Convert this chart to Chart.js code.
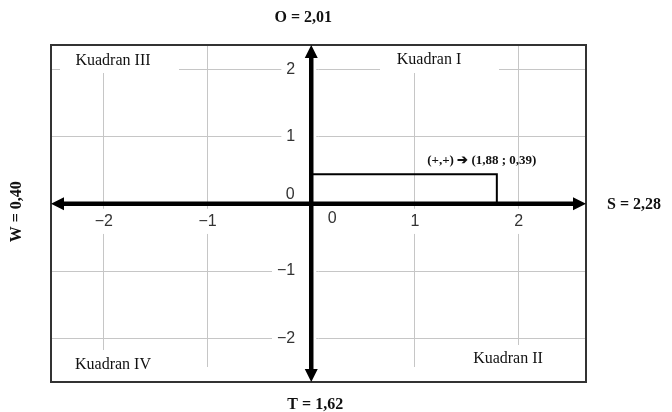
<!DOCTYPE html>
<html lang="id">
<head>
<meta charset="UTF-8">
<title>Diagram Kuadran</title>
<script src="https://cdn.jsdelivr.net/npm/chart.js"></script>
<style>
  body { margin: 0; background: #ffffff; }
  .wrap { width: 672px; height: 412px; }
</style>
</head>
<body>
<div class="wrap"><canvas id="kuadranChart"></canvas></div>
<script>
// batas sumbu
const xRange = [-2.51, 2.65];
const yRange = [-2.65, 2.36];
const tickStep = 1;

// titik hasil, posisi seperti tergambar
const pointX = [1.79];
const pointY = [0.44];
const pointText = ['(+,+) \u2794 (1,88 ; 0,39)'];

// label di luar sumbu: atas, bawah, kanan, kiri
const edgeLabels = ['O = 2,01', 'T = 1,62', 'S = 2,28', 'W = 0,40'];
const quadrantNames = ['Kuadran I', 'Kuadran II', 'Kuadran III', 'Kuadran IV'];

const serif = '"Liberation Serif", "Times New Roman", serif';
const sans = '"Liberation Sans", Arial, sans-serif';

function fmt(v) {
    if (v === 0) return '';
    return v < 0 ? '\u2212' + Math.abs(v) : String(v);
}

const rectData = [
    { x: 0, y: 0 },
    { x: 0, y: pointY[0] },
    { x: pointX[0], y: pointY[0] },
    { x: pointX[0], y: 0 }
];

const tickBase = {
    stepSize: tickStep,
    includeBounds: false,
    padding: 8,
    color: '#333',
    font: { family: sans, size: 16 },
    showLabelBackdrop: true,
    backdropColor: '#ffffff',
    backdropPadding: { x: 5, y: 3 },
    z: 1
};

function arrow(ctx, x, y, dx, dy) {
    // ujung panah di (x, y), arah (dx, dy)
    const len = 13, half = 6.5;
    ctx.beginPath();
    ctx.moveTo(x, y);
    ctx.lineTo(x - dx * len - dy * half, y - dy * len - dx * half);
    ctx.lineTo(x - dx * len + dy * half, y - dy * len + dx * half);
    ctx.closePath();
    ctx.fill();
}

const decor = {
    id: 'decor',
    beforeDatasetsDraw(chart) {
        const { ctx, chartArea: a } = chart;
        ctx.save();
        ctx.fillStyle = '#ffffff';
        // potong garis grid di belakang label kuadran
        ctx.fillRect(a.left + 9, a.top, 119, 28);
        ctx.fillRect(a.left + 329, a.top, 119, 28);
        ctx.fillRect(a.left, a.bottom - 15, a.right - a.left, 15);
        ctx.fillRect(a.left + 9, a.bottom - 32, 120, 32);
        ctx.fillRect(a.left + 409, a.bottom - 37, 105, 37);
        ctx.restore();
    },
    afterDraw(chart) {
        const { ctx, chartArea: a, scales } = chart;
        const x0 = scales.x.getPixelForValue(0);
        const y0 = scales.y.getPixelForValue(0);
        ctx.save();

        // bingkai
        ctx.strokeStyle = '#333';
        ctx.lineWidth = 2;
        ctx.strokeRect(a.left, a.top, a.right - a.left, a.bottom - a.top);

        // sumbu tebal dengan panah
        ctx.strokeStyle = '#000';
        ctx.fillStyle = '#000';
        ctx.lineWidth = 4.5;
        ctx.beginPath();
        ctx.moveTo(a.left + 10, y0);
        ctx.lineTo(a.right - 10, y0);
        ctx.moveTo(x0, a.top + 10);
        ctx.lineTo(x0, a.bottom - 10);
        ctx.stroke();
        arrow(ctx, a.right, y0, 1, 0);
        arrow(ctx, a.left, y0, -1, 0);
        arrow(ctx, x0, a.top, 0, -1);
        arrow(ctx, x0, a.bottom, 0, 1);

        // label nol
        ctx.fillStyle = '#333';
        ctx.font = '16px ' + sans;
        ctx.textAlign = 'center';
        ctx.textBaseline = 'middle';
        ctx.fillText('0', x0 + 21, y0 + 15);
        ctx.fillText('0', x0 - 21, y0 - 9);

        // nama kuadran
        ctx.fillStyle = '#111';
        ctx.font = '16px ' + serif;
        ctx.fillText(quadrantNames[0], a.left + 378, a.top + 15);
        ctx.fillText(quadrantNames[1], a.left + 457, a.bottom - 23);
        ctx.fillText(quadrantNames[2], a.left + 62, a.top + 16);
        ctx.fillText(quadrantNames[3], a.left + 62, a.bottom - 17);

        // keterangan titik
        const px = scales.x.getPixelForValue(pointX[0]);
        const py = scales.y.getPixelForValue(pointY[0]);
        ctx.font = 'bold 13px ' + serif;
        ctx.fillText(pointText[0], px - 15, py - 14);

        // label luar
        ctx.font = 'bold 16px ' + serif;
        ctx.fillText(edgeLabels[0], x0 - 8, 18);
        ctx.fillText(edgeLabels[1], x0 + 4, 405);
        ctx.textAlign = 'left';
        ctx.fillText(edgeLabels[2], a.right + 21, y0 + 1);
        ctx.translate(17, y0 + 8);
        ctx.rotate(-Math.PI / 2);
        ctx.textAlign = 'center';
        ctx.fillText(edgeLabels[3], 0, 0);
        ctx.restore();
    }
};

new Chart(document.getElementById('kuadranChart'), {
    type: 'scatter',
    data: {
        datasets: [{
            data: rectData,
            showLine: true,
            borderColor: '#000',
            borderWidth: 2,
            pointRadius: 0,
            fill: false
        }]
    },
    options: {
        responsive: true,
        maintainAspectRatio: false,
        animation: false,
        layout: { padding: { left: 51, right: 86, top: 45, bottom: 30 } },
        plugins: { legend: { display: false }, tooltip: { enabled: false } },
        scales: {
            x: {
                type: 'linear',
                min: xRange[0],
                max: xRange[1],
                position: { y: 0 },
                grid: { color: '#c6c6c6', lineWidth: 1, drawTicks: false },
                border: { display: false },
                ticks: Object.assign({}, tickBase, { callback: fmt })
            },
            y: {
                type: 'linear',
                min: yRange[0],
                max: yRange[1],
                position: { x: 0 },
                grid: { color: '#c6c6c6', lineWidth: 1, drawTicks: false },
                border: { display: false },
                // label sumbu y digeser dari garis sumbu dengan spasi em
                ticks: Object.assign({}, tickBase, {
                    callback: v => v === 0 ? '' : fmt(v) + '\u2003'
                })
            }
        }
    },
    plugins: [decor]
});
</script>
</body>
</html>
